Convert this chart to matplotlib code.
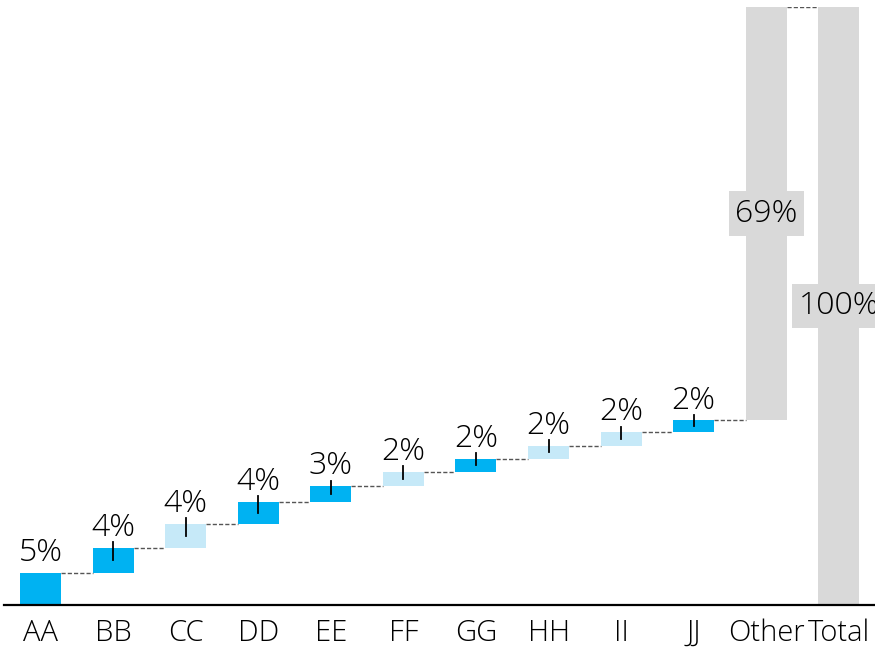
import matplotlib
matplotlib.use("Agg")
import matplotlib.pyplot as plt
import numpy as np

plt.rcParams['font.family'] = ['Open Sans', 'DejaVu Sans']

# data
categories = ["AA", "BB", "CC", "DD", "EE", "FF", "GG", "HH", "II", "JJ", "Other", "Total"]
values = [5.35, 4.2, 4.0, 3.7, 2.6, 2.4, 2.2, 2.2, 2.2, 2.0, 69.15, 100.0]
labels = ["5%", "4%", "4%", "4%", "3%", "2%", "2%", "2%", "2%", "2%", "69%", "100%"]
shade = ["dark", "dark", "light", "dark", "dark", "light", "dark", "light", "light", "dark", "rest", "rest"]

palette = {"dark": "#00b2f2", "light": "#c6e9f8", "rest": "#d9d9d9"}

n = len(categories)
x = np.arange(n)
vals = np.array(values)
bottoms = np.zeros(n)
bottoms[1:-1] = np.cumsum(vals[:-2])
bottoms[-1] = 0
tops = bottoms + vals

fig = plt.figure(figsize=(8.75, 6.49), dpi=100)
ax = fig.add_axes([0.005, 0.068, 0.995, 0.921])

width = 0.565
colors = [palette[s] for s in shade]
ax.bar(x, vals, bottom=bottoms, width=width, color=colors, zorder=2)

# dashed connectors
for i in range(n - 1):
    ax.plot([x[i] + width / 2, x[i + 1] - width / 2], [tops[i], tops[i]],
            ls=(0, (3, 1.5)), color="#555555", lw=1, zorder=1)

# little marks from bar middle to just above top
for i in range(1, n - 2):
    mid = bottoms[i] + vals[i] / 2
    ax.plot([x[i], x[i]], [mid, tops[i] + 0.9], color="black", lw=1.3, zorder=3)

# value labels
for i in range(n - 2):
    ax.text(x[i], tops[i] + 2.0, labels[i], ha="center", va="baseline",
            fontsize=23, fontweight="light", color="black")
for i in range(n - 2, n):
    ax.text(x[i], bottoms[i] + vals[i] / 2, labels[i], ha="center", va="center",
            fontsize=23, fontweight="light", color="black", zorder=4,
            bbox=dict(boxstyle="square,pad=0.2", fc="#d9d9d9", ec="none"))

ax.set_xlim(-0.5, 11.5)
ax.set_ylim(0, 100)
ax.set_xticks(x)
ax.set_xticklabels(categories, fontsize=21, fontweight="light")
ax.tick_params(axis="x", length=0, pad=10)
ax.set_yticks([])
for s in ["top", "right", "left"]:
    ax.spines[s].set_visible(False)
ax.spines["bottom"].set_linewidth(1.6)
ax.patch.set_visible(False)

fig.savefig("out.png", dpi=100)
